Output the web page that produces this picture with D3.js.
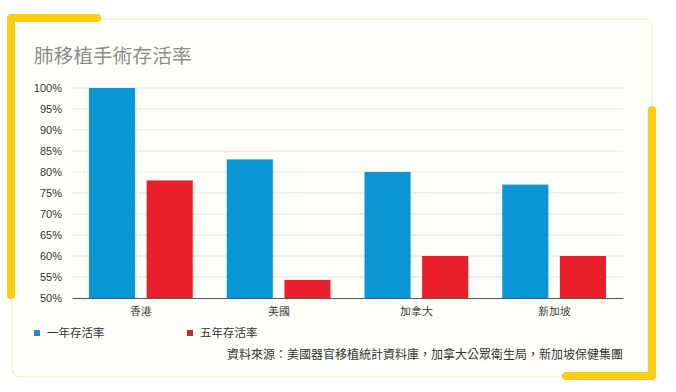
<!DOCTYPE html>
<html><head><meta charset="utf-8">
<script src="https://cdn.jsdelivr.net/npm/d3@7"></script>
<style>
html,body{margin:0;padding:0;background:#fff;}
svg{display:block;font-family:"Noto Sans CJK TC","Noto Sans",sans-serif;}
</style></head>
<body>
<svg id="c" width="676" height="392"></svg>
<script>
const categories = ["香港", "美國", "加拿大", "新加坡"];
const seriesNames = ["一年存活率", "五年存活率"];
const oneYear = [100, 83, 80, 77];
const fiveYear = [78, 54.3, 60, 60];
const yTicks = [50, 55, 60, 65, 70, 75, 80, 85, 90, 95, 100];
const title = "肺移植手術存活率";
const source = "資料來源：美國器官移植統計資料庫，加拿大公眾衛生局，新加坡保健集團";
const colors = ["#0896d4", "#e61f29"];

(function () {
const svg = d3.select("#c");

// frame
svg.append("rect").attr("x", 12).attr("y", 19).attr("width", 640).attr("height", 358)
  .attr("rx", 8).attr("fill", "#fffffa").attr("stroke", "#f3eab0").attr("stroke-width", 1);
// thick yellow accents
const Y = "#fbcd14";
svg.append("path").attr("d", "M11,295 L11,18 L97,18").attr("fill", "none")
  .attr("stroke", Y).attr("stroke-width", 8).attr("stroke-linecap", "round").attr("stroke-linejoin", "round");
svg.append("path").attr("d", "M652,110 L652,376 L566,376").attr("fill", "none")
  .attr("stroke", Y).attr("stroke-width", 8).attr("stroke-linecap", "round").attr("stroke-linejoin", "round");

svg.append("text").attr("x", 34).attr("y", 63).attr("font-size", 19.5).attr("fill", "#8c8c8c")
  .attr("letter-spacing", 0.2).text(title);

const pL = 72, pR = 623, pT = 88, pB = 298;
const x0 = d3.scaleBand().domain(categories).range([pL, pR]).paddingInner(0).paddingOuter(0);
const y = d3.scaleLinear().domain([50, 100]).range([pB, pT]);
const x1 = d3.scaleBand().domain(seriesNames).range([17, x0.bandwidth() - 17]).paddingInner(0.2);

// grid
svg.append("g").selectAll("line").data(yTicks.filter(t => t > 50)).join("line")
  .attr("x1", pL).attr("x2", pR).attr("y1", d => y(d)).attr("y2", d => y(d))
  .attr("stroke", "#e2e2e2").attr("stroke-width", 1.2);

const yAxis = svg.append("g").attr("transform", `translate(${pL},0)`)
  .call(d3.axisLeft(y).tickValues(yTicks).tickFormat(d => d + "%").tickSize(0).tickPadding(10));
yAxis.select(".domain").remove();
yAxis.selectAll("text").attr("font-size", 11).attr("fill", "#333")
  .attr("font-family", "Liberation Sans, Arial, sans-serif");

// bars
const data = categories.map((c, i) => ({c, vals: [oneYear[i], fiveYear[i]]}));
const g = svg.append("g").selectAll("g").data(data).join("g")
  .attr("transform", d => `translate(${x0(d.c)},0)`);
g.selectAll("rect").data(d => d.vals.map((v, j) => ({s: seriesNames[j], v, j}))).join("rect")
  .attr("x", d => x1(d.s)).attr("width", x1.bandwidth())
  .attr("y", d => y(d.v)).attr("height", d => pB - y(d.v))
  .attr("fill", d => colors[d.j]);

// x axis
const xAxis = svg.append("g").attr("transform", `translate(0,${pB})`)
  .call(d3.axisBottom(x0).tickSize(0).tickPadding(9));
xAxis.select(".domain").attr("stroke", "#555").attr("stroke-width", 1.2);
xAxis.selectAll("text").attr("font-size", 11).attr("fill", "#333");

// legend
const lg = svg.append("g").selectAll("g").data(seriesNames).join("g")
  .attr("transform", (d, i) => `translate(${[34, 187][i]},333)`);
lg.append("rect").attr("x", 0).attr("y", -3).attr("width", 6).attr("height", 6)
  .attr("fill", (d, i) => i === 0 ? "#1c8fc4" : "#b8323a");
lg.append("text").attr("x", 13).attr("y", 4).attr("font-size", 11.5).attr("fill", "#333").text(d => d);

svg.append("text").attr("x", 623).attr("y", 359).attr("text-anchor", "end")
  .attr("font-size", 12).attr("fill", "#333").text(source);
})();
</script>
</body></html>
